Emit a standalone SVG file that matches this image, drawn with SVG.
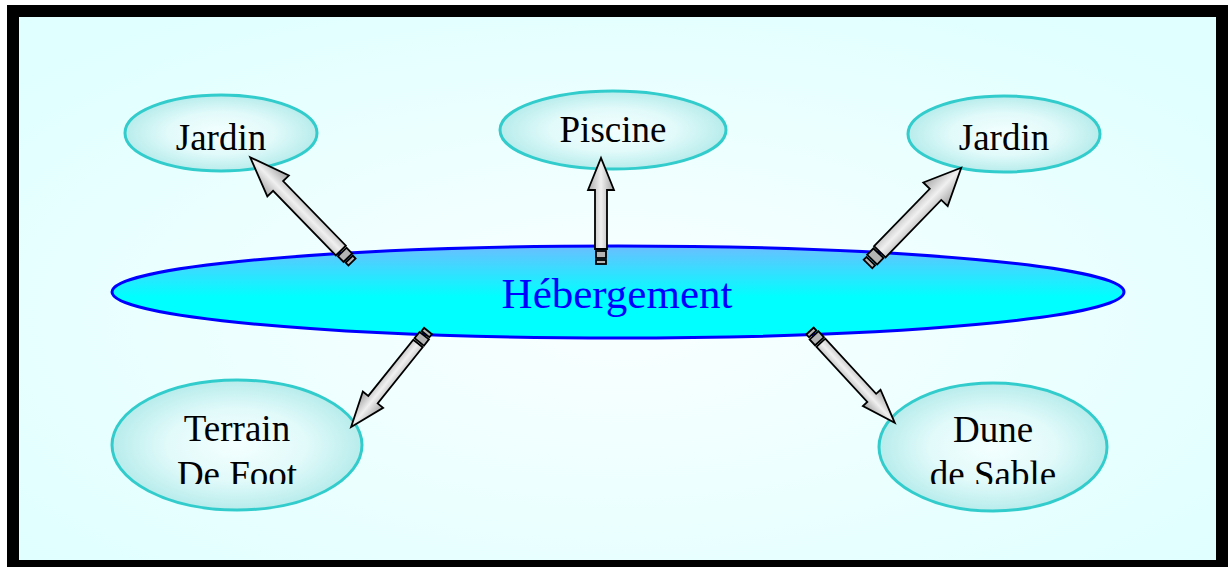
<svg xmlns="http://www.w3.org/2000/svg" width="1229" height="567" viewBox="0 0 1229 567">
<defs>
<radialGradient id="bg" cx="50%" cy="55%" r="65%">
<stop offset="0%" stop-color="#FAFFFF"/>
<stop offset="100%" stop-color="#E0FFFF"/>
</radialGradient>
<linearGradient id="mainFill" x1="0" y1="0" x2="0" y2="1">
<stop offset="0%" stop-color="#6BBEFF"/>
<stop offset="55%" stop-color="#00FFFF"/>
<stop offset="100%" stop-color="#00FFFF"/>
</linearGradient>
<radialGradient id="nodeFill" cx="50%" cy="50%" r="50%">
<stop offset="0%" stop-color="#F4FFFF"/>
<stop offset="55%" stop-color="#E2FAFA"/>
<stop offset="100%" stop-color="#B8ECEC"/>
</radialGradient>
<linearGradient id="arrowFill" x1="0" y1="0" x2="0" y2="1">
<stop offset="0%" stop-color="#A8A8A8"/>
<stop offset="50%" stop-color="#F0F0F0"/>
<stop offset="100%" stop-color="#A0A0A0"/>
</linearGradient>
<clipPath id="textClip"><rect x="0" y="0" width="1229" height="484"/></clipPath>
</defs>
<style>
.node ellipse { fill: url(#nodeFill); stroke: #33CCCC; stroke-width: 3; }
.label { font-family: "Liberation Serif", "Times New Roman", serif; font-size: 37px; fill: #000; text-anchor: middle; }
.main { font-family: "Liberation Serif", "Times New Roman", serif; font-size: 43px; fill: #0000FF; text-anchor: middle; }
.arrow path { fill: url(#arrowFill); stroke: #000; stroke-width: 1.8; stroke-linejoin: miter; }
.arrow rect { fill: #B4B4B4; stroke: #000; stroke-width: 1.8; }
</style>
<rect x="0" y="0" width="1229" height="567" fill="#FFFFFF"/>
<rect x="13" y="11" width="1209" height="555" fill="url(#bg)" stroke="#000" stroke-width="12"/>

<g id="hebergement">
<ellipse cx="618" cy="292" rx="506" ry="46" fill="url(#mainFill)" stroke="#0000FF" stroke-width="3"/>
<text class="main" x="617" y="308">Hébergement</text>
</g>

<g id="jardin-left" class="node">
<ellipse cx="221" cy="133" rx="96" ry="38"/>
<text class="label" x="221" y="150">Jardin</text>
</g>
<g id="piscine" class="node">
<ellipse cx="613" cy="130" rx="113" ry="39"/>
<text class="label" x="613" y="142">Piscine</text>
</g>
<g id="jardin-right" class="node">
<ellipse cx="1004" cy="134" rx="96" ry="38"/>
<text class="label" x="1004" y="150">Jardin</text>
</g>
<g id="terrain" class="node">
<ellipse cx="237" cy="445" rx="125" ry="65"/>
<g clip-path="url(#textClip)">
<text class="label" x="237" y="441">Terrain</text>
<text class="label" x="237" y="487">De Foot</text>
</g>
</g>
<g id="dune" class="node">
<ellipse cx="993" cy="447" rx="114" ry="64"/>
<g clip-path="url(#textClip)">
<text class="label" x="993" y="442">Dune</text>
<text class="label" x="993" y="487">de Sable</text>
</g>
</g>

<g id="connectors">
<g class="arrow" transform="translate(352,262) rotate(-134.2)">
<rect x="0" y="-5" width="4" height="10"/>
<rect x="6" y="-6" width="8" height="12"/>
<path d="M16,-7 L106,-7 L106,-15 L146,0 L106,15 L106,7 L16,7 Z"/>
</g>
<g class="arrow" transform="translate(601,264) rotate(-90)">
<rect x="0" y="-5" width="4" height="10"/>
<rect x="6" y="-5" width="7" height="10"/>
<path d="M15,-6 L74,-6 L74,-13 L106,0 L74,13 L74,6 L15,6 Z"/>
</g>
<g class="arrow" transform="translate(868,264) rotate(-45.9)">
<rect x="0" y="-6" width="4" height="12"/>
<rect x="6" y="-7" width="9" height="14"/>
<path d="M17,-8 L97,-8 L97,-17 L134,0 L97,17 L97,8 L17,8 Z"/>
</g>
<g class="arrow" transform="translate(428,331) rotate(128.7)">
<rect x="0" y="-5" width="4" height="10"/>
<rect x="6" y="-6" width="8" height="12"/>
<path d="M16,-6 L88,-6 L88,-13 L123,0 L88,13 L88,6 L16,6 Z"/>
</g>
<g class="arrow" transform="translate(810,331) rotate(47.3)">
<rect x="0" y="-5" width="4" height="10"/>
<rect x="6" y="-6" width="8" height="12"/>
<path d="M16,-6 L91,-6 L91,-12 L125,0 L91,12 L91,6 L16,6 Z"/>
</g>
</g>
</svg>
